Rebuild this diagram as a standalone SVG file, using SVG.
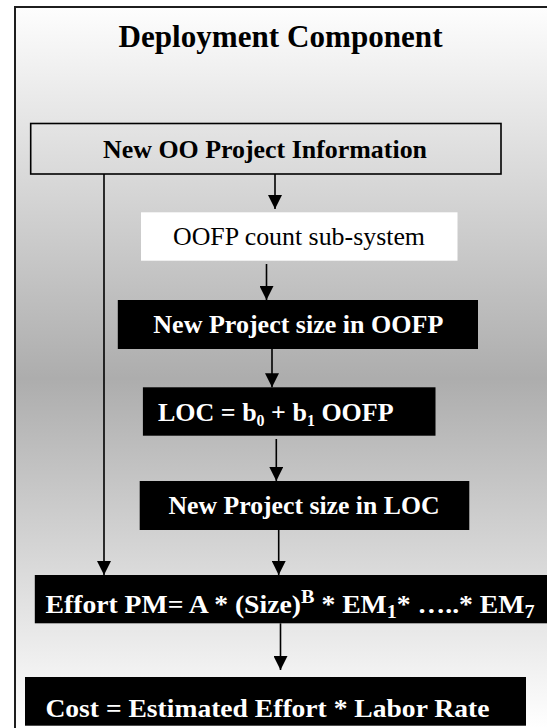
<svg xmlns="http://www.w3.org/2000/svg" width="547" height="728" viewBox="0 0 547 728">
  <defs>
    <linearGradient id="panelFill" x1="0" y1="0" x2="0" y2="728" gradientUnits="userSpaceOnUse">
      <stop offset="0" stop-color="#ffffff"/>
      <stop offset="0.52" stop-color="#adadad"/>
      <stop offset="1" stop-color="#ffffff"/>
    </linearGradient>
    <marker id="arrow" viewBox="0 0 14 14" markerWidth="14" markerHeight="14" refX="14" refY="7" orient="auto" markerUnits="userSpaceOnUse">
      <path d="M0,0 L14,7 L0,14 z" fill="#000"/>
    </marker>
    <style>
      text { font-family: "Liberation Serif", "Times New Roman", serif; text-anchor: middle; }
      .title { font-size: 31px; font-weight: bold; fill: #000; }
      .bold { font-size: 26px; font-weight: bold; }
      .dark rect { fill: #000; }
      .dark text { fill: #fff; }
      .conn line { stroke: #000; stroke-width: 1.6; marker-end: url(#arrow); }
    </style>
  </defs>

  <!-- background panel with frame -->
  <rect x="0" y="0" width="547" height="728" fill="#ffffff"/>
  <rect x="15" y="7" width="560" height="760" fill="url(#panelFill)" stroke="#1e1e1e" stroke-width="2"/>

  <g id="title">
    <text class="title" x="280.5" y="46.5" textLength="324" lengthAdjust="spacingAndGlyphs">Deployment Component</text>
  </g>

  <g id="project-info">
    <rect x="30.7" y="123.5" width="470.3" height="50.5" fill="none" stroke="#000" stroke-width="1.6"/>
    <text class="bold" x="265" y="157.5" fill="#000" textLength="324" lengthAdjust="spacingAndGlyphs">New OO Project Information</text>
  </g>

  <g id="oofp-count">
    <rect x="141" y="212.3" width="316.5" height="48.4" fill="#ffffff"/>
    <text x="299" y="245" font-size="26" fill="#000" textLength="252" lengthAdjust="spacingAndGlyphs">OOFP count sub-system</text>
  </g>

  <g id="size-oofp" class="dark">
    <rect x="117.8" y="300" width="360.2" height="49"/>
    <text class="bold" x="298.3" y="332.7" textLength="290" lengthAdjust="spacingAndGlyphs">New Project size in OOFP</text>
  </g>

  <g id="loc-formula" class="dark">
    <rect x="142.9" y="387.3" width="292.6" height="48.4"/>
    <text class="bold" x="275.8" y="420.7" font-size="25">LOC = b<tspan font-size="16" dy="5">0</tspan><tspan dy="-5"> + b</tspan><tspan font-size="16" dy="5">1</tspan><tspan dy="-5"> OOFP</tspan></text>
  </g>

  <g id="size-loc" class="dark">
    <rect x="139.7" y="481" width="329.6" height="49"/>
    <text class="bold" x="304" y="514" textLength="271" lengthAdjust="spacingAndGlyphs">New Project size in LOC</text>
  </g>

  <g id="effort" class="dark">
    <rect x="34.8" y="575" width="520" height="48.3"/>
    <text class="bold" x="290" y="613" font-size="28" textLength="489" lengthAdjust="spacingAndGlyphs">Effort PM= A * (Size)<tspan font-size="19" dy="-10">B</tspan><tspan dy="10"> * EM</tspan><tspan font-size="19" dy="5">1</tspan><tspan dy="-5">* …..* EM</tspan><tspan font-size="19" dy="5">7</tspan></text>
  </g>

  <g id="cost" class="dark">
    <rect x="25" y="677" width="501" height="48.7"/>
    <text class="bold" x="267.4" y="716.5" font-size="28" textLength="444" lengthAdjust="spacingAndGlyphs">Cost = Estimated Effort * Labor Rate</text>
  </g>

  <g id="connectors" class="conn">
    <line x1="275" y1="174" x2="275" y2="209"/>
    <line x1="266.5" y1="264" x2="266.5" y2="300"/>
    <line x1="272" y1="349" x2="272" y2="387.3"/>
    <line x1="276.3" y1="439" x2="276.3" y2="481"/>
    <line x1="278.7" y1="530" x2="278.7" y2="575"/>
    <line x1="104" y1="174" x2="104" y2="575"/>
    <line x1="280.5" y1="623.3" x2="280.5" y2="670"/>
  </g>
</svg>
